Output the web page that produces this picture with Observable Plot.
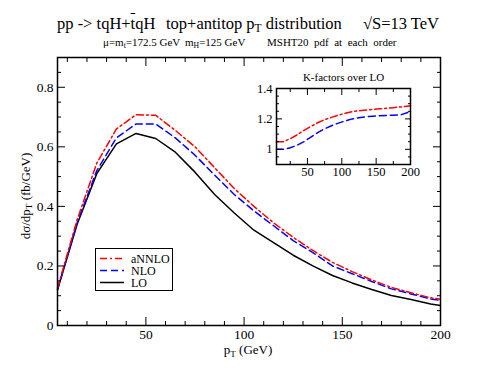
<!DOCTYPE html>
<html><head><meta charset="utf-8">
<script src="https://cdn.jsdelivr.net/npm/d3@7"></script>
<script src="https://cdn.jsdelivr.net/npm/@observablehq/plot@0.6"></script>
<style>
body{margin:0;background:#fff;font-family:"Liberation Serif","Times New Roman",serif;color:#000;}
#wrap{position:relative;width:496px;height:383px;overflow:hidden;}
.abs{position:absolute;white-space:pre;line-height:1;}
sub{font-size:70%;vertical-align:-0.3em;line-height:0;}
#main{position:absolute;left:0;top:50px;}
#inset{position:absolute;left:240px;top:70px;}
#legend{position:absolute;left:95px;top:248px;width:76px;height:41px;border:1.5px solid #000;background:#fff;}
</style></head><body>
<div id="wrap">
  <div id="main"></div>
  <div id="inset"></div>
  <div class="abs" style="left:57px;top:16px;font-size:16.5px;">pp -&gt; tqH+<span style="text-decoration:overline">t</span>qH</div>
  <div class="abs" style="left:166px;top:16px;font-size:16.5px;">top+antitop p<sub>T</sub> distribution</div>
  <div class="abs" style="left:363px;top:16px;font-size:16.5px;">√S=13 TeV</div>
  <div class="abs" style="left:103px;top:37px;font-size:11px;">μ=m<sub>t</sub>=172.5 GeV</div>
  <div class="abs" style="left:185px;top:37px;font-size:11px;">m<sub>H</sub>=125 GeV</div>
  <div class="abs" style="left:267px;top:37px;font-size:11px;">MSHT20  pdf  at  each  order</div>
  <div class="abs" style="left:248px;top:343px;font-size:13px;transform:translateX(-50%);">p<sub>T</sub> (GeV)</div>
  <div class="abs" style="left:25px;top:196px;font-size:13px;transform:translate(-50%,-50%) rotate(-90deg);">dσ/dp<sub>T</sub> (fb/GeV)</div>
  <div id="legend">
    <svg width="76" height="41" style="position:absolute;left:0;top:0;">
      <line x1="4" x2="28" y1="9.5" y2="9.5" stroke="#ff0000" stroke-width="1.5" stroke-dasharray="7,3,2,3"/>
      <line x1="4" x2="28" y1="21.5" y2="21.5" stroke="#0000ff" stroke-width="1.5" stroke-dasharray="7,4"/>
      <line x1="4" x2="28" y1="33.5" y2="33.5" stroke="#000" stroke-width="1.5"/>
      <text x="35" y="13.5" font-size="12" font-family="Liberation Serif">aNNLO</text>
      <text x="35" y="26" font-size="12" font-family="Liberation Serif">NLO</text>
      <text x="35" y="38" font-size="12" font-family="Liberation Serif">LO</text>
    </svg>
  </div>
</div>
<script>
// pT bin centres (GeV)
const pt = [5,15,25,35,45,55,65,75,85,95,105,115,125,135,145,155,165,175,185,195,200];
// dσ/dpT (fb/GeV)
const lo    = [0.120,0.340,0.510,0.610,0.645,0.628,0.582,0.515,0.440,0.378,0.320,0.278,0.236,0.200,0.168,0.143,0.121,0.101,0.087,0.072,0.067];
const nlo   = [0.120,0.345,0.520,0.630,0.677,0.677,0.630,0.572,0.505,0.440,0.385,0.335,0.285,0.245,0.200,0.174,0.148,0.123,0.106,0.089,0.084];
const annlo = [0.126,0.355,0.545,0.660,0.708,0.706,0.655,0.600,0.530,0.460,0.400,0.345,0.296,0.252,0.212,0.181,0.153,0.128,0.110,0.093,0.088];
// K-factors over LO (inset)
const kNLO   = [1.000,1.000,1.010,1.027,1.050,1.080,1.110,1.135,1.155,1.172,1.187,1.200,1.208,1.214,1.218,1.221,1.223,1.224,1.226,1.240,1.255];
const kANNLO = [1.050,1.050,1.070,1.095,1.125,1.150,1.175,1.195,1.210,1.225,1.237,1.247,1.254,1.258,1.262,1.266,1.270,1.274,1.278,1.283,1.286];

const xMajor = [50,100,150,200];
const xMinor = d3.range(10,200,10).filter(v => v % 50 !== 0);
const yMajor = [0,0.2,0.4,0.6,0.8];
const yMinor = d3.range(0,0.9001,0.05).map(v=>+v.toFixed(2)).filter(v => !yMajor.includes(v));

const rows = (ys) => pt.map((x,i)=>({x, y: ys[i]}));
const blank = () => "";
const font = {fontFamily:"'Liberation Serif', serif", fontSize:"13.5px", color:"#000", background:"transparent", overflow:"visible"};

const main = Plot.plot({
  width:496, height:333, marginTop:7, marginBottom:58, marginLeft:57, marginRight:56,
  style: font,
  x:{domain:[5,200]},
  y:{domain:[0,0.9]},
  marks:[
    Plot.line(rows(lo),    {x:"x", y:"y", stroke:"#000", strokeWidth:1.5}),
    Plot.line(rows(nlo),   {x:"x", y:"y", stroke:"#0000ff", strokeWidth:1.5, strokeDasharray:"7,4"}),
    Plot.line(rows(annlo), {x:"x", y:"y", stroke:"#ff0000", strokeWidth:1.5, strokeDasharray:"7,3,2,3"}),
    Plot.axisX({ticks:xMajor, tickSize:0, tickPadding:4, label:null}),
    Plot.axisY({ticks:yMajor, tickSize:0, tickPadding:4, label:null, tickFormat:d=>d===0?"0":d3.format(".1f")(d)}),
    Plot.axisX({anchor:"bottom", ticks:xMajor, tickSize:-8, tickFormat:blank, label:null}),
    Plot.axisX({anchor:"bottom", ticks:xMinor, tickSize:-4, tickFormat:blank, label:null}),
    Plot.axisX({anchor:"top", ticks:xMajor, tickSize:-8, tickFormat:blank, label:null}),
    Plot.axisX({anchor:"top", ticks:xMinor, tickSize:-4, tickFormat:blank, label:null}),
    Plot.axisY({anchor:"left", ticks:yMajor, tickSize:-8, tickFormat:blank, label:null}),
    Plot.axisY({anchor:"left", ticks:yMinor, tickSize:-4, tickFormat:blank, label:null}),
    Plot.axisY({anchor:"right", ticks:yMajor, tickSize:-8, tickFormat:blank, label:null}),
    Plot.axisY({anchor:"right", ticks:yMinor, tickSize:-4, tickFormat:blank, label:null}),
    Plot.frame({stroke:"#000", strokeWidth:1.5})
  ]
});
document.getElementById("main").appendChild(main);

const ixMajor = [50,100,150,200];
const ixMinor = [25,75,125,175];
const iyMajor = [1,1.2,1.4];
const iyMinor = [0.95,1.05,1.1,1.15,1.25,1.3,1.35];

const inset = Plot.plot({
  width:178, height:115, marginTop:18, marginBottom:21, marginLeft:36, marginRight:8,
  style:{...font, fontSize:"12.5px"},
  x:{domain:[5,200]},
  y:{domain:[0.9,1.4]},
  marks:[
    Plot.frame({fill:"#fff"}),
    Plot.line(rows(kNLO),   {x:"x", y:"y", stroke:"#0000ff", strokeWidth:1.5, strokeDasharray:"7,4"}),
    Plot.line(rows(kANNLO), {x:"x", y:"y", stroke:"#ff0000", strokeWidth:1.5, strokeDasharray:"7,3,2,3"}),
    Plot.axisX({ticks:ixMajor, tickSize:0, tickPadding:3, label:null}),
    Plot.axisY({ticks:iyMajor, tickSize:0, tickPadding:4, label:null, tickFormat:d=>d===1?"1":d3.format(".1f")(d)}),
    Plot.axisX({anchor:"bottom", ticks:ixMajor, tickSize:-6, tickFormat:blank, label:null}),
    Plot.axisX({anchor:"bottom", ticks:ixMinor, tickSize:-3, tickFormat:blank, label:null}),
    Plot.axisX({anchor:"top", ticks:ixMajor, tickSize:-6, tickFormat:blank, label:null}),
    Plot.axisX({anchor:"top", ticks:ixMinor, tickSize:-3, tickFormat:blank, label:null}),
    Plot.axisY({anchor:"left", ticks:iyMajor, tickSize:-6, tickFormat:blank, label:null}),
    Plot.axisY({anchor:"left", ticks:iyMinor, tickSize:-3, tickFormat:blank, label:null}),
    Plot.axisY({anchor:"right", ticks:iyMajor, tickSize:-6, tickFormat:blank, label:null}),
    Plot.axisY({anchor:"right", ticks:iyMinor, tickSize:-3, tickFormat:blank, label:null}),
    Plot.text(["K-factors over LO"], {frameAnchor:"top", dy:-11, fontSize:11, lineAnchor:"middle"}),
    Plot.frame({stroke:"#000", strokeWidth:1.5})
  ]
});
document.getElementById("inset").appendChild(inset);
</script>
</body></html>
